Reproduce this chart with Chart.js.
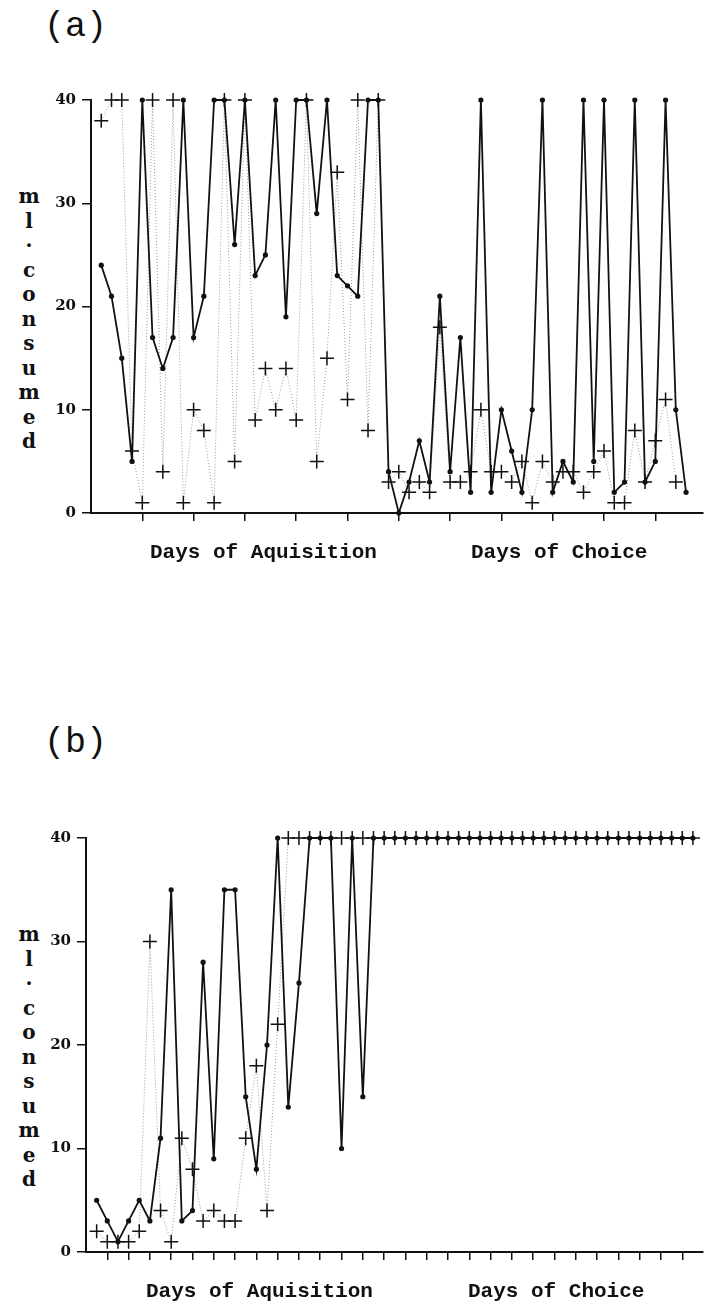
<!DOCTYPE html>
<html>
<head>
<meta charset="utf-8">
<script src="https://cdn.jsdelivr.net/npm/chart.js@4.4.1/dist/chart.umd.min.js"></script>
<style>
  html, body { margin: 0; padding: 0; background: #fff; }
  body { width: 711px; height: 1306px; position: relative; overflow: hidden; }
  canvas { position: absolute; left: 0; }
  .tag { position: absolute; left: 44px; font: 35px "Liberation Mono", monospace; line-height: 35px; color: #111; }
  .ytitle { position: absolute; left: 14px; width: 30px; text-align: center; font: bold 20px "DejaVu Serif", serif; line-height: 24.5px; color: #111; }
  .xlab { position: absolute; font: bold 21px "Liberation Mono", monospace; line-height: 24px; white-space: nowrap; color: #111; }
</style>
</head>
<body>
<div class="tag" style="top:10px">(a)</div>
<div class="ytitle" style="top:184px">m<br>l<br>·<br>c<br>o<br>n<br>s<br>u<br>m<br>e<br>d</div>
<canvas id="chartA" width="711" height="600" style="top:0"></canvas>
<div class="xlab" style="left:150px; top:541px">Days of Aquisition</div>
<div class="xlab" style="left:471px; top:541px">Days of Choice</div>

<div class="tag" style="top:726px">(b)</div>
<div class="ytitle" style="top:922px">m<br>l<br>·<br>c<br>o<br>n<br>s<br>u<br>m<br>e<br>d</div>
<canvas id="chartB" width="711" height="606" style="top:700px"></canvas>
<div class="xlab" style="left:146px; top:1280px">Days of Aquisition</div>
<div class="xlab" style="left:468px; top:1280px">Days of Choice</div>

<script>
// ml consumed per day, panel (a)
const solidA = [24, 21, 15, 5, 40, 17, 14, 17, 40, 17, 21, 40, 40, 26, 40, 23, 25, 40, 19, 40,
  40, 29, 40, 23, 22, 21, 40, 40, 4, 0, 3, 7, 3, 21, 4, 17, 2, 40, 2, 10,
  6, 2, 10, 40, 2, 5, 3, 40, 5, 40, 2, 3, 40, 3, 5, 40, 10, 2];
const crossA = [38, 40, 40, 6, 1, 40, 4, 40, 1, 10, 8, 1, 40, 5, 40, 9, 14, 10, 14, 9,
  40, 5, 15, 33, 11, 40, 8, 40, 3, 4, 2, 3, 2, 18, 3, 3, 4, 10, 4, 4,
  3, 5, 1, 5, 3, 4, 4, 2, 4, 6, 1, 1, 8, 3, 7, 11, 3];

// panel (b)
const solidB = [5, 3, 1, 3, 5, 3, 11, 35, 3, 4, 28, 9, 35, 35, 15, 8, 20, 40, 14, 26,
  40, 40, 40, 10, 40, 15, 40, 40, 40, 40, 40, 40, 40, 40, 40, 40, 40, 40, 40, 40,
  40, 40, 40, 40, 40, 40, 40, 40, 40, 40, 40, 40, 40, 40, 40, 40, 40];
const crossB = [2, 1, 1, 1, 2, 30, 4, 1, 11, 8, 3, 4, 3, 3, 11, 18, 4, 22, 40, 40,
  40, 40, 40, 40, 40, 40, 40, 40, 40, 40, 40, 40, 40, 40, 40, 40, 40, 40, 40, 40,
  40, 40, 40, 40, 40, 40, 40, 40, 40, 40, 40, 40, 40, 40, 40, 40, 40];

const yTicks = [0, 10, 20, 30, 40];
const xTicksA = [5, 10, 15, 20, 25, 30, 35, 40, 45, 50, 55];
const xTicksB = [2, 4, 6, 8, 10, 12, 14, 16, 18, 20, 22, 24, 26, 28, 30, 32, 34, 36, 38, 40,
  42, 44, 46, 48, 50, 52, 54, 56];

const ink = '#111';

function points(values) {
  return values.map((v, i) => ({ x: i + 1, y: v }));
}

function makePanel(id, solid, cross, xTicks, xMax, axisWidth, padTop, xAxisHeight) {
  return new Chart(document.getElementById(id), {
    type: 'line',
    data: {
      datasets: [{
        data: points(solid),
        borderColor: ink,
        borderWidth: 1.8,
        pointRadius: 2.6,
        pointBackgroundColor: ink,
        pointBorderWidth: 0,
        tension: 0,
        clip: false
      }, {
        data: points(cross),
        borderColor: '#9a9a9a',
        borderWidth: 1,
        borderDash: [1, 2],
        pointStyle: 'cross',
        pointRadius: 7,
        pointBorderColor: ink,
        pointBorderWidth: 1.5,
        tension: 0,
        clip: false
      }]
    },
    options: {
      responsive: false,
      animation: false,
      events: [],
      layout: { padding: { top: padTop, left: 0, right: 0, bottom: 0 } },
      plugins: { legend: { display: false }, tooltip: { enabled: false } },
      scales: {
        x: {
          type: 'linear',
          min: 0,
          max: xMax,
          afterBuildTicks: s => { s.ticks = xTicks.map(v => ({ value: v })); },
          afterFit: s => { s.height = xAxisHeight; },
          grid: { drawOnChartArea: false, drawTicks: true, tickLength: 8, color: ink, lineWidth: 1.5 },
          border: { color: ink, width: 2 },
          ticks: { callback: () => '', padding: 0 }
        },
        y: {
          type: 'linear',
          min: 0,
          max: 40,
          afterBuildTicks: s => { s.ticks = yTicks.map(v => ({ value: v })); },
          afterFit: s => { s.width = axisWidth; },
          grid: { drawOnChartArea: false, drawTicks: true, tickLength: 9, color: ink, lineWidth: 1.5 },
          border: { color: ink, width: 2 },
          ticks: { color: ink, padding: 6, font: { family: 'DejaVu Serif', weight: 'bold', size: 15 } }
        }
      }
    }
  });
}

makePanel('chartA', solidA, crossA, xTicksA, 59.6, 91, 100, 87);
makePanel('chartB', solidB, crossB, xTicksB, 57.9, 86, 138, 54);
</script>
</body>
</html>
